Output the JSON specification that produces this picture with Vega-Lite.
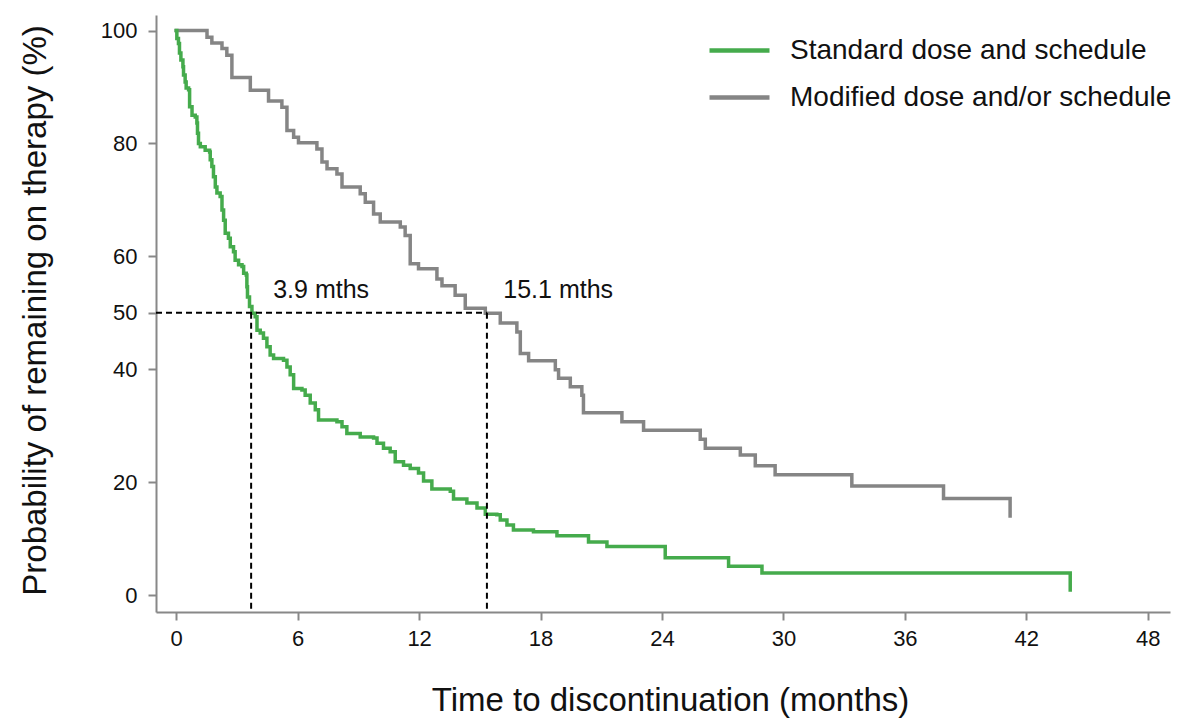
{
  "$schema": "https://vega.github.io/schema/vega-lite/v6.json",
  "width": 1014,
  "height": 597,
  "autosize": {"type": "none"},
  "padding": {"left": 156, "top": 15, "right": 12, "bottom": 114},
  "background": "white",
  "config": {
    "view": {"stroke": null},
    "font": "Liberation Sans",
    "axis": {
      "grid": false,
      "domainColor": "#888888",
      "domainWidth": 2,
      "tickColor": "#888888",
      "tickWidth": 2,
      "tickSize": 8,
      "labelFont": "Liberation Sans",
      "labelFontSize": 22,
      "labelColor": "#111111",
      "titleFont": "Liberation Sans",
      "titleFontSize": 33,
      "titleFontWeight": "normal",
      "titleColor": "#111111"
    },
    "legend": {
      "labelFont": "Liberation Sans",
      "labelFontSize": 28,
      "labelColor": "#111111",
      "labelLimit": 0
    }
  },
  "datasets": {
    "km": [
      {"s": "Modified dose and/or schedule", "m": 0, "p": 100},
      {"s": "Modified dose and/or schedule", "m": 1.52, "p": 98.8},
      {"s": "Modified dose and/or schedule", "m": 1.76, "p": 97.8},
      {"s": "Modified dose and/or schedule", "m": 2.26, "p": 96.8},
      {"s": "Modified dose and/or schedule", "m": 2.5, "p": 95.6},
      {"s": "Modified dose and/or schedule", "m": 2.75, "p": 91.7},
      {"s": "Modified dose and/or schedule", "m": 3.66, "p": 89.4},
      {"s": "Modified dose and/or schedule", "m": 4.56, "p": 87.5},
      {"s": "Modified dose and/or schedule", "m": 5.22, "p": 86.4},
      {"s": "Modified dose and/or schedule", "m": 5.47, "p": 82.3},
      {"s": "Modified dose and/or schedule", "m": 5.8, "p": 81.1},
      {"s": "Modified dose and/or schedule", "m": 6.04, "p": 80.1},
      {"s": "Modified dose and/or schedule", "m": 6.95, "p": 79.0},
      {"s": "Modified dose and/or schedule", "m": 7.2, "p": 76.7},
      {"s": "Modified dose and/or schedule", "m": 7.45, "p": 75.5},
      {"s": "Modified dose and/or schedule", "m": 7.94, "p": 74.6},
      {"s": "Modified dose and/or schedule", "m": 8.19, "p": 72.3},
      {"s": "Modified dose and/or schedule", "m": 9.09, "p": 71.1},
      {"s": "Modified dose and/or schedule", "m": 9.34, "p": 69.6},
      {"s": "Modified dose and/or schedule", "m": 9.75, "p": 67.5},
      {"s": "Modified dose and/or schedule", "m": 10.08, "p": 66.1},
      {"s": "Modified dose and/or schedule", "m": 11.07, "p": 65.2},
      {"s": "Modified dose and/or schedule", "m": 11.31, "p": 63.7},
      {"s": "Modified dose and/or schedule", "m": 11.56, "p": 58.7},
      {"s": "Modified dose and/or schedule", "m": 11.97, "p": 57.8},
      {"s": "Modified dose and/or schedule", "m": 12.88, "p": 56.0},
      {"s": "Modified dose and/or schedule", "m": 13.13, "p": 54.8},
      {"s": "Modified dose and/or schedule", "m": 13.78, "p": 53.1},
      {"s": "Modified dose and/or schedule", "m": 14.28, "p": 50.8},
      {"s": "Modified dose and/or schedule", "m": 15.27, "p": 49.9},
      {"s": "Modified dose and/or schedule", "m": 16.01, "p": 48.2},
      {"s": "Modified dose and/or schedule", "m": 16.83, "p": 46.6},
      {"s": "Modified dose and/or schedule", "m": 17.0, "p": 42.8},
      {"s": "Modified dose and/or schedule", "m": 17.41, "p": 41.5},
      {"s": "Modified dose and/or schedule", "m": 18.73, "p": 39.9},
      {"s": "Modified dose and/or schedule", "m": 18.89, "p": 38.4},
      {"s": "Modified dose and/or schedule", "m": 19.47, "p": 36.9},
      {"s": "Modified dose and/or schedule", "m": 20.04, "p": 35.4},
      {"s": "Modified dose and/or schedule", "m": 20.12, "p": 32.3},
      {"s": "Modified dose and/or schedule", "m": 22.02, "p": 30.7},
      {"s": "Modified dose and/or schedule", "m": 23.09, "p": 29.2},
      {"s": "Modified dose and/or schedule", "m": 25.89, "p": 27.6},
      {"s": "Modified dose and/or schedule", "m": 26.14, "p": 26.0},
      {"s": "Modified dose and/or schedule", "m": 27.87, "p": 24.8},
      {"s": "Modified dose and/or schedule", "m": 28.61, "p": 22.9},
      {"s": "Modified dose and/or schedule", "m": 29.59, "p": 21.3},
      {"s": "Modified dose and/or schedule", "m": 33.38, "p": 19.3},
      {"s": "Modified dose and/or schedule", "m": 37.91, "p": 17.1},
      {"s": "Modified dose and/or schedule", "m": 41.2, "p": 14.0},
      {"s": "Standard dose and schedule", "m": 0, "p": 100},
      {"s": "Standard dose and schedule", "m": 0.03, "p": 98.6},
      {"s": "Standard dose and schedule", "m": 0.11, "p": 97.7},
      {"s": "Standard dose and schedule", "m": 0.16, "p": 96.0},
      {"s": "Standard dose and schedule", "m": 0.23, "p": 94.8},
      {"s": "Standard dose and schedule", "m": 0.33, "p": 93.6},
      {"s": "Standard dose and schedule", "m": 0.36, "p": 92.1},
      {"s": "Standard dose and schedule", "m": 0.44, "p": 90.9},
      {"s": "Standard dose and schedule", "m": 0.49, "p": 89.8},
      {"s": "Standard dose and schedule", "m": 0.61, "p": 89.5},
      {"s": "Standard dose and schedule", "m": 0.66, "p": 86.5},
      {"s": "Standard dose and schedule", "m": 0.78, "p": 85.0},
      {"s": "Standard dose and schedule", "m": 0.94, "p": 84.7},
      {"s": "Standard dose and schedule", "m": 1.02, "p": 83.6},
      {"s": "Standard dose and schedule", "m": 1.05, "p": 81.8},
      {"s": "Standard dose and schedule", "m": 1.1, "p": 80.0},
      {"s": "Standard dose and schedule", "m": 1.19, "p": 79.4},
      {"s": "Standard dose and schedule", "m": 1.43, "p": 78.8},
      {"s": "Standard dose and schedule", "m": 1.65, "p": 78.5},
      {"s": "Standard dose and schedule", "m": 1.68, "p": 77.1},
      {"s": "Standard dose and schedule", "m": 1.76, "p": 75.9},
      {"s": "Standard dose and schedule", "m": 1.84, "p": 74.1},
      {"s": "Standard dose and schedule", "m": 1.93, "p": 72.3},
      {"s": "Standard dose and schedule", "m": 2.01, "p": 71.2},
      {"s": "Standard dose and schedule", "m": 2.17, "p": 70.6},
      {"s": "Standard dose and schedule", "m": 2.26, "p": 68.2},
      {"s": "Standard dose and schedule", "m": 2.34, "p": 66.4},
      {"s": "Standard dose and schedule", "m": 2.42, "p": 64.1},
      {"s": "Standard dose and schedule", "m": 2.58, "p": 63.2},
      {"s": "Standard dose and schedule", "m": 2.67, "p": 61.7},
      {"s": "Standard dose and schedule", "m": 2.83, "p": 60.8},
      {"s": "Standard dose and schedule", "m": 2.91, "p": 59.3},
      {"s": "Standard dose and schedule", "m": 3.08, "p": 58.5},
      {"s": "Standard dose and schedule", "m": 3.25, "p": 58.2},
      {"s": "Standard dose and schedule", "m": 3.33, "p": 57.0},
      {"s": "Standard dose and schedule", "m": 3.46, "p": 56.7},
      {"s": "Standard dose and schedule", "m": 3.49, "p": 54.6},
      {"s": "Standard dose and schedule", "m": 3.52, "p": 52.8},
      {"s": "Standard dose and schedule", "m": 3.62, "p": 51.1},
      {"s": "Standard dose and schedule", "m": 3.74, "p": 49.9},
      {"s": "Standard dose and schedule", "m": 3.9, "p": 49.3},
      {"s": "Standard dose and schedule", "m": 3.99, "p": 46.9},
      {"s": "Standard dose and schedule", "m": 4.15, "p": 46.4},
      {"s": "Standard dose and schedule", "m": 4.31, "p": 45.5},
      {"s": "Standard dose and schedule", "m": 4.48, "p": 44.0},
      {"s": "Standard dose and schedule", "m": 4.64, "p": 42.5},
      {"s": "Standard dose and schedule", "m": 4.81, "p": 41.9},
      {"s": "Standard dose and schedule", "m": 5.3, "p": 41.6},
      {"s": "Standard dose and schedule", "m": 5.47, "p": 40.4},
      {"s": "Standard dose and schedule", "m": 5.63, "p": 39.0},
      {"s": "Standard dose and schedule", "m": 5.8, "p": 36.6},
      {"s": "Standard dose and schedule", "m": 6.21, "p": 36.3},
      {"s": "Standard dose and schedule", "m": 6.37, "p": 35.4},
      {"s": "Standard dose and schedule", "m": 6.62, "p": 34.0},
      {"s": "Standard dose and schedule", "m": 6.87, "p": 32.8},
      {"s": "Standard dose and schedule", "m": 7.03, "p": 31.0},
      {"s": "Standard dose and schedule", "m": 7.94, "p": 30.7},
      {"s": "Standard dose and schedule", "m": 8.19, "p": 29.8},
      {"s": "Standard dose and schedule", "m": 8.43, "p": 28.6},
      {"s": "Standard dose and schedule", "m": 9.09, "p": 28.0},
      {"s": "Standard dose and schedule", "m": 9.75, "p": 27.8},
      {"s": "Standard dose and schedule", "m": 9.92, "p": 26.9},
      {"s": "Standard dose and schedule", "m": 10.24, "p": 26.0},
      {"s": "Standard dose and schedule", "m": 10.57, "p": 25.4},
      {"s": "Standard dose and schedule", "m": 10.82, "p": 23.6},
      {"s": "Standard dose and schedule", "m": 11.23, "p": 23.0},
      {"s": "Standard dose and schedule", "m": 11.56, "p": 22.4},
      {"s": "Standard dose and schedule", "m": 11.97, "p": 21.6},
      {"s": "Standard dose and schedule", "m": 12.22, "p": 20.2},
      {"s": "Standard dose and schedule", "m": 12.63, "p": 18.8},
      {"s": "Standard dose and schedule", "m": 13.54, "p": 18.4},
      {"s": "Standard dose and schedule", "m": 13.7, "p": 17.0},
      {"s": "Standard dose and schedule", "m": 14.36, "p": 16.3},
      {"s": "Standard dose and schedule", "m": 14.86, "p": 15.4},
      {"s": "Standard dose and schedule", "m": 15.27, "p": 14.3},
      {"s": "Standard dose and schedule", "m": 15.84, "p": 14.2},
      {"s": "Standard dose and schedule", "m": 16.01, "p": 13.3},
      {"s": "Standard dose and schedule", "m": 16.34, "p": 12.4},
      {"s": "Standard dose and schedule", "m": 16.66, "p": 11.5},
      {"s": "Standard dose and schedule", "m": 17.65, "p": 11.2},
      {"s": "Standard dose and schedule", "m": 18.81, "p": 10.5},
      {"s": "Standard dose and schedule", "m": 20.37, "p": 9.4},
      {"s": "Standard dose and schedule", "m": 21.28, "p": 8.6},
      {"s": "Standard dose and schedule", "m": 24.16, "p": 6.6},
      {"s": "Standard dose and schedule", "m": 27.29, "p": 5.1},
      {"s": "Standard dose and schedule", "m": 28.94, "p": 3.9},
      {"s": "Standard dose and schedule", "m": 44.17, "p": 0.9}
    ],
    "hrule": [{"x": -1, "x2": 15.35, "y": 50}],
    "vrule": [{"x": 3.7, "y": 50, "y2": -3.01}, {"x": 15.35, "y": 50, "y2": -3.01}],
    "notes": [{"x": 4.79, "y": 52.6, "t": "3.9 mths"}, {"x": 16.16, "y": 52.6, "t": "15.1 mths"}]
  },
  "layer": [
    {
      "data": {"name": "km"},
      "mark": {"type": "line", "interpolate": "step-after", "strokeWidth": 3.5, "strokeCap": "square"},
      "encoding": {
        "x": {
          "field": "m", "type": "quantitative",
          "scale": {"domain": [-1, 49.1], "nice": false, "zero": false},
          "axis": {
            "values": [0, 6, 12, 18, 24, 30, 36, 42, 48],
            "title": "Time to discontinuation (months)",
            "labelPadding": 8,
            "titleX": 514, "titleY": 88, "titleBaseline": "middle"
          }
        },
        "y": {
          "field": "p", "type": "quantitative",
          "scale": {"domain": [-3.01, 102.75], "nice": false, "zero": false},
          "axis": {
            "values": [0, 20, 40, 50, 60, 80, 100],
            "title": "Probability of remaining on therapy (%)",
            "labelPadding": 11,
            "titleX": -121, "titleY": 295, "titleBaseline": "middle", "titleAngle": -90
          }
        },
        "color": {
          "field": "s", "type": "nominal",
          "scale": {
            "domain": ["Standard dose and schedule", "Modified dose and/or schedule"],
            "range": ["#45ab4c", "#858585"]
          },
          "legend": {
            "title": null,
            "orient": "none",
            "legendX": 551,
            "legendY": 3,
            "symbolType": "stroke",
            "symbolSize": 3600,
            "symbolStrokeWidth": 4.5,
            "labelOffset": 18,
            "rowPadding": -21
          }
        },
        "order": {"field": "m", "type": "quantitative"}
      }
    },
    {
      "data": {"name": "hrule"},
      "mark": {"type": "rule", "color": "#000000", "strokeWidth": 2, "strokeDash": [6, 4]},
      "encoding": {
        "x": {"field": "x", "type": "quantitative"},
        "x2": {"field": "x2"},
        "y": {"field": "y", "type": "quantitative"}
      }
    },
    {
      "data": {"name": "vrule"},
      "mark": {"type": "rule", "color": "#000000", "strokeWidth": 2, "strokeDash": [6, 4]},
      "encoding": {
        "x": {"field": "x", "type": "quantitative"},
        "y": {"field": "y", "type": "quantitative"},
        "y2": {"field": "y2"}
      }
    },
    {
      "data": {"name": "notes"},
      "mark": {"type": "text", "align": "left", "baseline": "alphabetic", "fontSize": 25, "font": "Liberation Sans", "color": "#111111"},
      "encoding": {
        "x": {"field": "x", "type": "quantitative"},
        "y": {"field": "y", "type": "quantitative"},
        "text": {"field": "t"}
      }
    }
  ]
}
